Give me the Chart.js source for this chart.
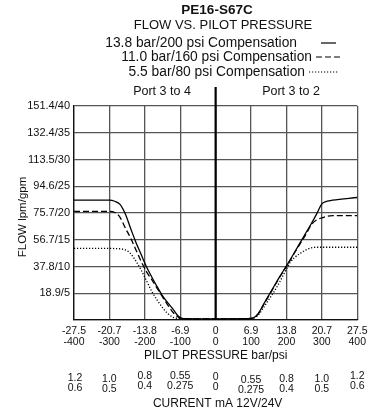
<!DOCTYPE html>
<html lang="en">
<head>
<meta charset="utf-8">
<title>PE16-S67C</title>
<script src="https://cdn.jsdelivr.net/npm/chart.js"></script>
<style>
  html, body { margin: 0; padding: 0; background: #fff; }
</style>
</head>
<body>
<canvas id="chart" width="373" height="414"></canvas>
<script>
// pilot pressure in psi (x) and flow in gpm (y)
const pressurePsi = [-400, -300, -285, -270, -255, -240, -225, -210, -195, -180, -165, -150, -135, -120, -105, -90, 0,
                     90, 105, 120, 135, 150, 165, 180, 195, 210, 225, 240, 255, 270, 285, 300, 315, 330, 400];
const flow138 = [22.4, 22.4, 22.2, 21.6, 19.8, 17.1, 14.5, 12.2, 9.9, 8.0, 6.2, 4.5, 3.2, 2.0, 0.7, 0.25, 0.2,
                 0.25, 0.35, 1.2, 2.9, 4.6, 6.3, 8.0, 9.6, 11.2, 12.9, 14.6, 16.3, 18.0, 19.8, 21.7, 22.2, 22.4, 22.9];
const flow110 = [20.3, 20.3, 20.1, 19.2, 17.2, 15.3, 13.1, 10.9, 9.0, 7.5, 5.9, 4.3, 2.8, 1.4, 0.5, 0.25, 0.2,
                 0.25, 0.35, 1.1, 2.8, 4.5, 6.2, 7.9, 9.5, 11.1, 12.8, 14.4, 16.0, 17.8, 18.7, 19.1, 19.4, 19.5, 19.5];
const flow55 = [13.4, 13.4, 13.35, 13.3, 13.1, 12.4, 11.0, 9.3, 7.3, 5.3, 3.7, 2.3, 1.2, 0.5, 0.3, 0.25, 0.2,
                0.25, 0.3, 0.9, 2.3, 3.8, 5.3, 7.0, 8.9, 10.7, 11.8, 12.5, 13.1, 13.5, 13.6, 13.6, 13.6, 13.6, 13.6];

const seriesNames = ['13.8 bar/200 psi Compensation', '11.0 bar/160 psi Compensation', '5.5 bar/80 psi Compensation'];

// tick labels
const barTicks = ['-27.5', '-20.7', '-13.8', '-6.9', '0', '6.9', '13.8', '20.7', '27.5'];
const psiTicks = ['-400', '-300', '-200', '-100', '0', '100', '200', '300', '400'];
const lpmTicks = ['', '18.9', '37.8', '56.7', '75.7', '94.6', '113.5', '132.4', '151.4'];
const current12V = ['1.2', '1.0', '0.8', '0.55', '0', '0.55', '0.8', '1.0', '1.2'];
const current24V = ['0.6', '0.5', '0.4', '0.275', '0', '0.275', '0.4', '0.5', '0.6'];

const FONT = '"Liberation Sans", Arial, Helvetica, sans-serif';
const dashes = [[], [6, 3], [1.2, 1.8]];

function toPoints(ys) {
    return pressurePsi.map((p, i) => ({ x: p, y: ys[i] }));
}

// titles, legend, port labels, current scale and the bold centre line
const annotations = {
    id: 'annotations',
    beforeDatasetsDraw(chart) {
        const { ctx, chartArea, scales: { x } } = chart;
        const x0 = x.getPixelForValue(0);
        ctx.save();
        ctx.strokeStyle = '#000';
        ctx.lineWidth = 2.2;
        ctx.beginPath();
        ctx.moveTo(x0, 87);
        ctx.lineTo(x0, chartArea.bottom);
        ctx.stroke();
        ctx.restore();
    },
    afterDraw(chart) {
        const { ctx, scales: { x } } = chart;
        const cx = x.getPixelForValue(0);
        ctx.save();
        ctx.fillStyle = '#111';
        ctx.textBaseline = 'middle';
        ctx.textAlign = 'center';

        ctx.font = 'bold 13.5px ' + FONT;
        ctx.fillText('PE16-S67C', 217, 10);
        ctx.font = '13px ' + FONT;
        ctx.fillText('FLOW VS. PILOT PRESSURE', 223, 25);

        // legend rows: text right edge, then a line sample
        const rows = [
            { y: 43, right: 297, x1: 321, x2: 336 },
            { y: 57, right: 312, x1: 316, x2: 343 },
            { y: 72, right: 305, x1: 309, x2: 338 }
        ];
        ctx.font = '13.8px ' + FONT;
        rows.forEach((r, i) => {
            ctx.textAlign = 'right';
            ctx.fillText(seriesNames[i], r.right, r.y);
            ctx.save();
            ctx.strokeStyle = '#000';
            ctx.lineWidth = 1.2;
            ctx.setLineDash(dashes[i]);
            ctx.beginPath();
            ctx.moveTo(r.x1, r.y);
            ctx.lineTo(r.x2, r.y);
            ctx.stroke();
            ctx.restore();
        });

        ctx.textAlign = 'center';
        ctx.font = '12.5px ' + FONT;
        ctx.fillText('Port 3 to 4', 162, 92);
        ctx.fillText('Port 3 to 2', 291, 92);

        // y axis title
        ctx.save();
        ctx.translate(23, 217);
        ctx.rotate(-Math.PI / 2);
        ctx.font = '11.5px ' + FONT;
        ctx.fillText('FLOW lpm/gpm', 0, 0);
        ctx.restore();

        ctx.font = '12px ' + FONT;
        ctx.fillText('PILOT PRESSURE bar/psi', cx, 356);

        // current scale under each pressure tick
        const shift = [0, 1, -1.5, -1.5, -1, 2, 1, 1, -1.5];
        ctx.font = '10.5px ' + FONT;
        current12V.forEach((t, i) => {
            const px = x.getPixelForValue(-400 + i * 100);
            ctx.fillText(t, px + (i === 0 ? 1 : 0), 378 + shift[i]);
            ctx.fillText(current24V[i], px + (i === 0 ? 1 : 0), 388 + shift[i]);
        });

        ctx.font = '12px ' + FONT;
        ctx.fillText('CURRENT mA 12V/24V', cx + 2, 404);
        ctx.restore();
    }
};

const lineStyle = (data, i) => ({
    label: seriesNames[i],
    data: toPoints(data),
    borderColor: '#000',
    borderWidth: 1.3,
    borderDash: dashes[i],
    pointRadius: 0,
    fill: false,
    cubicInterpolationMode: 'monotone'
});

new Chart(document.getElementById('chart'), {
    type: 'line',
    data: {
        datasets: [lineStyle(flow138, 0), lineStyle(flow110, 1), lineStyle(flow55, 2)]
    },
    options: {
        responsive: false,
        animation: false,
        layout: { autoPadding: false, padding: { top: 106, right: 11, left: 0, bottom: 0 } },
        plugins: { legend: { display: false }, tooltip: { enabled: false } },
        scales: {
            x: {
                type: 'linear',
                min: -400,
                max: 400,
                afterFit: s => { s.height = 94; },
                afterBuildTicks: s => { s.ticks = psiTicks.map(v => ({ value: Number(v) })); },
                grid: { color: '#555', lineWidth: 1.3, drawTicks: false },
                border: { color: '#111', width: 1.3 },
                ticks: {
                    padding: 5.5,
                    color: '#111',
                    maxRotation: 0,
                    autoSkip: false,
                    font: { family: FONT, size: 10.5, lineHeight: 1.05 },
                    callback: (v, i) => [barTicks[i], psiTicks[i]]
                }
            },
            y: {
                min: 0,
                max: 40,
                afterFit: s => { s.width = 74; },
                grid: { color: '#555', lineWidth: 1.3, drawTicks: false },
                border: { color: '#111', width: 1.3 },
                ticks: {
                    stepSize: 5,
                    padding: 4,
                    color: '#111',
                    font: { family: FONT, size: 11 },
                    callback: (v, i) => (v === 0 ? '' : lpmTicks[i] + '/' + v)
                }
            }
        }
    },
    plugins: [annotations]
});
</script>
</body>
</html>
